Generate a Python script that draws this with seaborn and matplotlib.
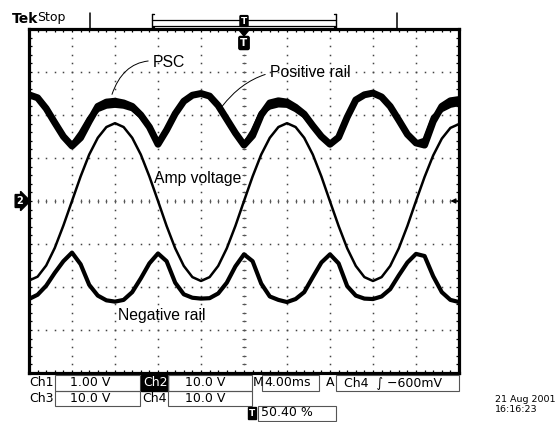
import numpy as np
import matplotlib
matplotlib.use("Agg")
import matplotlib.pyplot as plt
import seaborn as sns
from matplotlib.patches import Rectangle, Polygon

sns.set_theme(style="white")
plt.rcParams['font.family'] = ['DejaVu Sans']

# ---- acquisition: 4.00 ms/div, 10 divisions, sampled every 0.8 ms ----
time_ms = np.arange(51) * 0.8

# Ch2: amplifier output voltage (V), 10.0 V/div
amp_voltage_v = [-18.5, -17.6, -15.0, -10.9, -5.7, 0.0, 5.7, 10.8, 14.7, 17.2,
                 18.1, 17.2, 14.7, 10.8, 5.7, 0.0, -5.8, -11.0, -15.1, -17.7,
                 -18.6, -17.7, -15.1, -11.0, -5.8, 0.0, 5.7, 10.8, 14.7, 17.2,
                 18.1, 17.2, 14.7, 10.8, 5.7, -0.1, -5.8, -11.0, -15.1, -17.7,
                 -18.6, -17.7, -15.1, -11.0, -5.8, 0.0, 5.6, 10.6, 14.5, 17.0,
                 17.9]

# Rail traces, screen position in divisions from centre
positive_rail_div = [2.47, 2.40, 2.15, 1.82, 1.50, 1.28, 1.47, 1.85, 2.20, 2.30,
                     2.32, 2.28, 2.20, 2.00, 1.72, 1.32, 1.65, 2.03, 2.32, 2.46,
                     2.50, 2.44, 2.22, 1.90, 1.58, 1.30, 1.52, 2.00, 2.28, 2.33,
                     2.30, 2.18, 2.02, 1.75, 1.50, 1.32, 1.48, 1.95, 2.35, 2.47,
                     2.51, 2.42, 2.20, 1.88, 1.55, 1.35, 1.30, 1.85, 2.20, 2.33,
                     2.36]

psc_div = [2.47, 2.40, 2.15, 1.82, 1.50, 1.30, 1.58, 1.92, 2.12, 2.20,
           2.22, 2.20, 2.14, 1.97, 1.72, 1.32, 1.65, 2.03, 2.32, 2.46,
           2.50, 2.44, 2.22, 1.90, 1.58, 1.30, 1.62, 2.05, 2.18, 2.23,
           2.22, 2.12, 1.98, 1.75, 1.50, 1.32, 1.48, 1.95, 2.35, 2.47,
           2.51, 2.42, 2.20, 1.88, 1.55, 1.35, 1.42, 1.95, 2.12, 2.22,
           2.26]

negative_rail_div = [-2.28, -2.18, -1.97, -1.67, -1.40, -1.20, -1.47, -1.95, -2.20, -2.31,
                     -2.34, -2.30, -2.12, -1.80, -1.45, -1.22, -1.40, -1.90, -2.17, -2.25,
                     -2.27, -2.26, -2.15, -1.90, -1.52, -1.24, -1.40, -1.92, -2.22, -2.30,
                     -2.35, -2.28, -2.12, -1.77, -1.43, -1.24, -1.45, -1.98, -2.20, -2.27,
                     -2.28, -2.22, -2.05, -1.73, -1.43, -1.23, -1.28, -1.75, -2.12, -2.30,
                     -2.35]

MS_PER_DIV = 4.0
CH2_V_PER_DIV = 10.0

W, H = 558, 422
fig = plt.figure(figsize=(W / 100, H / 100), dpi=100)
fig.patch.set_facecolor("white")


def fx(px):
    return px / W


def fy(py):
    return 1 - py / H


ax = fig.add_axes([fx(29), fy(373), 430 / W, 344 / H])
ax.set_facecolor("white")
ax.set_xlim(0, 10)
ax.set_ylim(-4, 4)

# graticule: dotted division lines, centre cross with small ticks
steps = np.arange(0, 10.001, 0.2)
vsteps = np.arange(-4, 4.001, 0.2)
for gx in range(1, 10):
    ax.plot([gx] * len(vsteps), vsteps, ls="none", marker="s", ms=1.1,
            mew=0, color="#444444", zorder=1)
for gy in range(-3, 4):
    ax.plot(steps, [gy] * len(steps), ls="none", marker="s", ms=1.1,
            mew=0, color="#444444", zorder=1)
ax.plot([5] * len(vsteps), vsteps, ls="none", marker="_", ms=2.6, mew=0.8,
        color="#555555", zorder=1)
ax.plot(steps, [0] * len(steps), ls="none", marker="|", ms=2.6, mew=0.8,
        color="#555555", zorder=1)

ax.set_xticks(steps)
ax.set_yticks(vsteps)
ax.set_xticklabels([])
ax.set_yticklabels([])
ax.tick_params(direction="in", length=2.5, width=0.9, colors="black",
               top=True, right=True, bottom=True, left=True)
for s in ax.spines.values():
    s.set_linewidth(2.3)
    s.set_color("black")
ax.grid(False)

x_div = time_ms / MS_PER_DIV
amp_div = np.array(amp_voltage_v) / CH2_V_PER_DIV

sns.lineplot(x=x_div, y=positive_rail_div, ax=ax, color="black", lw=5.0,
             estimator=None, sort=False, zorder=3)
sns.lineplot(x=x_div, y=psc_div, ax=ax, color="black", lw=3.4,
             estimator=None, sort=False, zorder=3)
sns.lineplot(x=x_div, y=amp_div, ax=ax, color="black", lw=1.8,
             estimator=None, sort=False, zorder=3)
sns.lineplot(x=x_div, y=negative_rail_div, ax=ax, color="black", lw=3.0,
             estimator=None, sort=False, zorder=3)
ax.set_xlabel("")
ax.set_ylabel("")

# trace labels with leader lines
lab_font = dict(family=["Liberation Sans", "DejaVu Sans"], fontsize=11.3,
                color="black")
ax.annotate("PSC", xy=(1.93, 2.48), xytext=(2.88, 3.22), va="center",
            ha="left", arrowprops=dict(arrowstyle="-", lw=0.7, color="black",
                                       shrinkA=1, shrinkB=0,
                                       connectionstyle="arc3,rad=0.45"),
            **lab_font)
ax.annotate("Positive rail", xy=(4.49, 2.2), xytext=(5.6, 3.0), va="center",
            ha="left", arrowprops=dict(arrowstyle="-", lw=0.7, color="black",
                                       shrinkA=1, shrinkB=0,
                                       connectionstyle="arc3,rad=0.3"),
            **lab_font)
ax.text(2.9, 0.53, "Amp voltage", va="center", ha="left", **lab_font)
ax.text(2.07, -2.67, "Negative rail", va="center", ha="left", **lab_font)

# ground-reference arrow on the right edge
ax.annotate("", xy=(9.8, 0), xytext=(10.0, 0),
            arrowprops=dict(arrowstyle="-|>", lw=1.0, color="black",
                            mutation_scale=7, shrinkA=0, shrinkB=0))

# ---- header ----
fig.text(fx(12), fy(19), "Tek", fontsize=10, fontweight="bold", va="center",
         ha="left", color="black")
fig.text(fx(37), fy(18), "Stop", fontsize=9, va="center", ha="left",
         color="black")
for px in (90, 397):
    fig.add_artist(plt.Line2D([fx(px), fx(px)], [fy(13), fy(29)], lw=1.1,
                              color="black"))
for py in (20, 26):
    fig.add_artist(plt.Line2D([fx(152), fx(336)], [fy(py), fy(py)], lw=0.9,
                              color="black"))
for px, d in ((152, 2), (336, -2)):
    fig.add_artist(plt.Line2D([fx(px), fx(px)], [fy(14), fy(27)], lw=1.0,
                              color="black"))
    fig.add_artist(plt.Line2D([fx(px), fx(px + d)], [fy(14), fy(14)], lw=1.0,
                              color="black"))
    fig.add_artist(plt.Line2D([fx(px), fx(px + d)], [fy(27), fy(27)], lw=1.0,
                              color="black"))
# trigger position markers
fig.text(fx(244), fy(21), "T", fontsize=6.5, fontweight="bold", color="white",
         ha="center", va="center",
         bbox=dict(boxstyle="round,pad=0.1", fc="black", ec="black"))
fig.add_artist(Polygon([[fx(239), fy(30)], [fx(249), fy(30)], [fx(244), fy(36)]],
                       closed=True, fc="black", ec="black"))
fig.text(fx(244), fy(43), "T", fontsize=7.5, fontweight="bold", color="white",
         ha="center", va="center",
         bbox=dict(boxstyle="round,pad=0.15", fc="black", ec="black"))

# channel 2 ground marker
fig.text(fx(20), fy(201), "2", fontsize=7, fontweight="bold", color="white",
         ha="center", va="center",
         bbox=dict(boxstyle="rarrow,pad=0.15", fc="black", ec="black"))

# ---- status readout ----
st = dict(fontsize=9, color="black", va="center")


def box(x0, x1, y0, y1):
    fig.add_artist(Rectangle((fx(x0), fy(y1)), fx(x1) - fx(x0),
                             fy(y0) - fy(y1), fill=False, lw=0.8,
                             ec="#555555"))


row1, row2, row3 = 383, 398, 413
fig.text(fx(29), fy(row1), "Ch1", ha="left", **st)
box(55, 140, 375, 391)
fig.text(fx(70), fy(row1), "1.00 V", ha="left", **st)
fig.add_artist(Rectangle((fx(141), fy(391)), fx(168) - fx(141),
                         fy(375) - fy(391), fc="black", ec="black"))
fig.text(fx(143), fy(row1), "Ch2", ha="left", fontsize=9, color="white",
         va="center")
box(168, 252, 375, 391)
fig.text(fx(185), fy(row1), "10.0 V", ha="left", **st)
fig.text(fx(253), fy(row1), "M", ha="left", **st)
box(262, 319, 375, 391)
fig.text(fx(264), fy(row1), "4.00ms", ha="left", **st)
fig.text(fx(326), fy(row1), "A", ha="left", **st)
box(336, 459, 375, 391)
fig.text(fx(344), fy(row1), "Ch4  \u222b \u2212600mV", ha="left", **st)

fig.text(fx(29), fy(row2), "Ch3", ha="left", **st)
box(55, 140, 391, 406)
fig.text(fx(70), fy(row2), "10.0 V", ha="left", **st)
fig.text(fx(142), fy(row2), "Ch4", ha="left", **st)
box(168, 252, 391, 406)
fig.text(fx(185), fy(row2), "10.0 V", ha="left", **st)

fig.text(fx(252), fy(row3), "T", fontsize=6.5, fontweight="bold",
         color="white", ha="center", va="center",
         bbox=dict(boxstyle="square,pad=0.12", fc="black", ec="black"))
box(258, 336, 406, 421)
fig.text(fx(261), fy(row3), "50.40 %", ha="left", **st)

fig.text(fx(495), fy(399), "21 Aug 2001", ha="left", fontsize=6.8,
         color="black", va="center")
fig.text(fx(495), fy(410), "16:16:23", ha="left", fontsize=6.8,
         color="black", va="center")

fig.savefig("out.png", dpi=100, facecolor="white")
